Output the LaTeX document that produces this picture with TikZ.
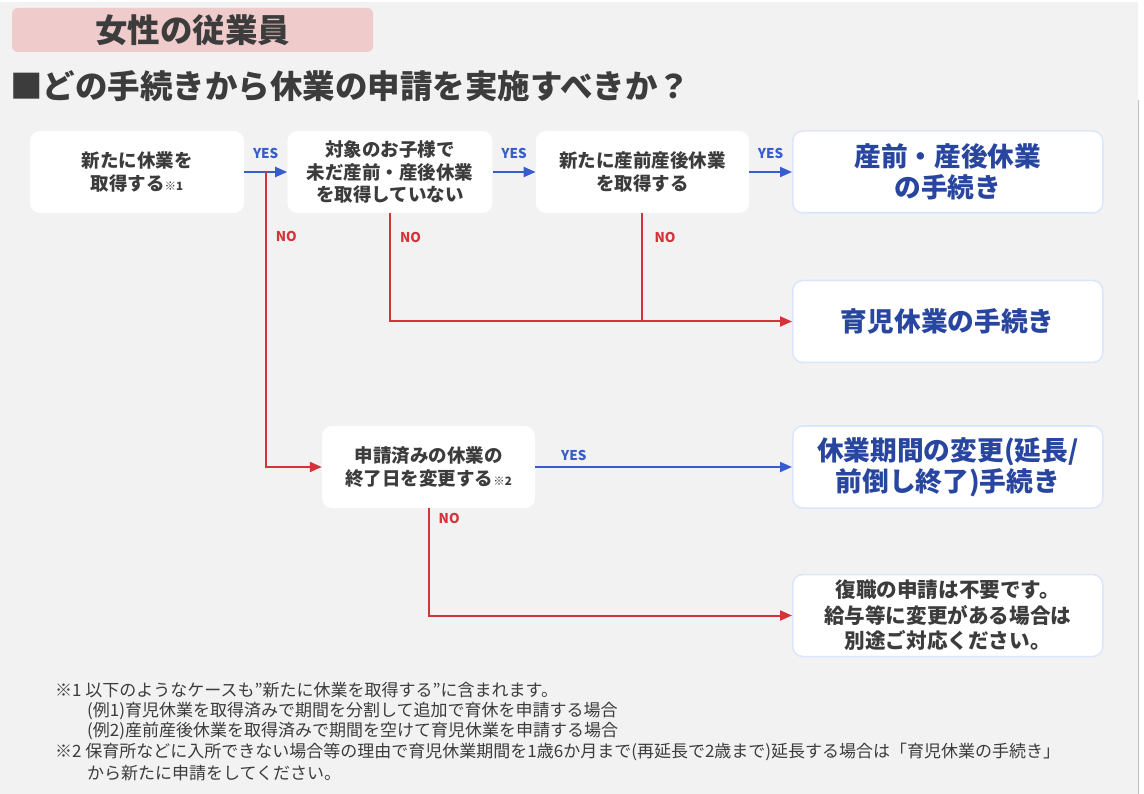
\documentclass[tikz,border=0pt]{standalone}
\usepackage{fontspec}
\setmainfont{Noto Sans CJK JP}
\usetikzlibrary{arrows.meta,positioning,calc}
\definecolor{PageGray}{RGB}{242,242,242}
\definecolor{HeadPink}{RGB}{239,203,203}
\definecolor{TextGray}{RGB}{60,60,60}
\definecolor{ResultBlue}{RGB}{40,70,160}
\definecolor{EdgeBlue}{RGB}{220,230,250}
\definecolor{YesBlue}{RGB}{55,92,205}
\definecolor{NoRed}{RGB}{210,52,58}
\tikzset{
  askbox/.style={draw=none,rounded corners=3.5mm,fill=white,
    minimum height=82pt,align=center,text=TextGray,
    font=\fontsize{18.5}{22.5}\selectfont\bfseries},
  resultbox/.style={draw=EdgeBlue,line width=1.5pt,rounded corners=3.5mm,fill=white,
    minimum width=310pt,minimum height=82pt,align=center,text=ResultBlue,
    font=\fontsize{26.7}{31}\selectfont\bfseries},
  yesarrow/.style={-{Triangle[length=12pt,width=10pt]},line width=2pt,draw=YesBlue},
  noarrow/.style={-{Triangle[length=12pt,width=10pt]},line width=2pt,draw=NoRed},
  noline/.style={line width=2pt,draw=NoRed},
  yeslabel/.style={text=YesBlue,font=\fontsize{13.5}{13.5}\selectfont\bfseries,inner sep=0pt},
  nolabel/.style={text=NoRed,font=\fontsize{13.5}{13.5}\selectfont\bfseries,inner sep=0pt,anchor=west},
  noteline/.style={anchor=west,inner sep=0pt,text=TextGray,font=\fontsize{17}{17}\selectfont},
}
\newcommand{\refmark}[1]{{\fontsize{11.5}{11.5}\selectfont ※#1}}

\begin{document}
\begin{tikzpicture}[x=1pt,y=-1pt,node distance=43pt]
  \useasboundingbox (0,0) rectangle (1144,794);
  \fill[white] (0,0) rectangle (1144,794);
  \fill[PageGray] (0,2) rectangle (1138,794);
  \draw[black!25,line width=1pt] (1138,100) -- (1138,794);

  % heading
  \node[fill=HeadPink,rounded corners=2mm,minimum width=361pt,minimum height=44pt,
    text=TextGray,font=\fontsize{32.5}{32.5}\selectfont\bfseries] (head) at (192.5,30) {女性の従業員};
  \node[anchor=west,inner sep=0pt,text=TextGray,font=\fontsize{32.5}{32.5}\selectfont\bfseries]
    (title) at (10,86) {■どの手続きから休業の申請を実施すべきか？};

  % questions
  \node[askbox,minimum width=214pt] (newleave) at (137,172) {新たに休業を\\取得する\refmark{1}};
  \node[askbox,minimum width=205pt,right=of newleave] (notyet) {対象のお子様で\\未だ産前・産後休業\\を取得していない};
  \node[askbox,minimum width=213pt,right=of notyet] (maternity) {新たに産前産後休業\\を取得する};
  \node[resultbox,right=of maternity] (resmat) {産前・産後休業\\の手続き};
  \node[resultbox,below=66pt of resmat] (reschild) {育児休業の手続き};
  \node[askbox,minimum width=213pt] (change) at (428.5,467) {申請済みの休業の\\終了日を変更する\refmark{2}};
  \node[resultbox] (reschange) at (resmat |- change) {休業期間の変更(延長/\\前倒し終了)手続き};
  \node[resultbox,text=TextGray,font=\fontsize{20.6}{25.5}\selectfont\bfseries,
    below=65pt of reschange] (resnone) {復職の申請は不要です。\\給与等に変更がある場合は\\別途ご対応ください。};

  % yes paths
  \draw[yesarrow] (newleave) -- node[yeslabel,above=12pt] (yes1) {YES} (notyet);
  \draw[yesarrow] (notyet) -- node[yeslabel,above=12pt] (yes2) {YES} (maternity);
  \draw[yesarrow] (maternity) -- node[yeslabel,above=12pt] (yes3) {YES} (resmat);
  \draw[yesarrow] (change) -- node[yeslabel,above=5pt,pos=0.15] (yes4) {YES} (reschange);

  % no paths
  \coordinate (split) at ($(newleave.east)!0.5!(notyet.west)$);
  \draw[noarrow] (split) |- (change.west);
  \draw[noarrow] (notyet.south) |- (reschild.west);
  \draw[noline] (maternity.south) -- (maternity.south |- reschild.west);
  \draw[noarrow] (change.south) |- (resnone.west);
  \node[nolabel] (no1) at ($(split)+(10,64)$) {NO};
  \node[nolabel] (no2) at ($(notyet.south)+(10,24)$) {NO};
  \node[nolabel] (no3) at ($(maternity.south)+(12,24)$) {NO};
  \node[nolabel] (no4) at ($(change.south)+(10,10)$) {NO};

  % notes
  \node[noteline] (note1) at (55,690) {※1 以下のようなケースも”新たに休業を取得する”に含まれます。};
  \node[noteline] (note1a) at (87,711) {(例1)育児休業を取得済みで期間を分割して追加で育休を申請する場合};
  \node[noteline] (note1b) at (87,731) {(例2)産前産後休業を取得済みで期間を空けて育児休業を申請する場合};
  \node[noteline] (note2) at (55,752) {※2 保育所などに入所できない場合等の理由で育児休業期間を1歳6か月まで(再延長で2歳まで)延長する場合は「育児休業の手続き」};
  \node[noteline] (note2a) at (87,773) {から新たに申請をしてください。};
\end{tikzpicture}
\end{document}
